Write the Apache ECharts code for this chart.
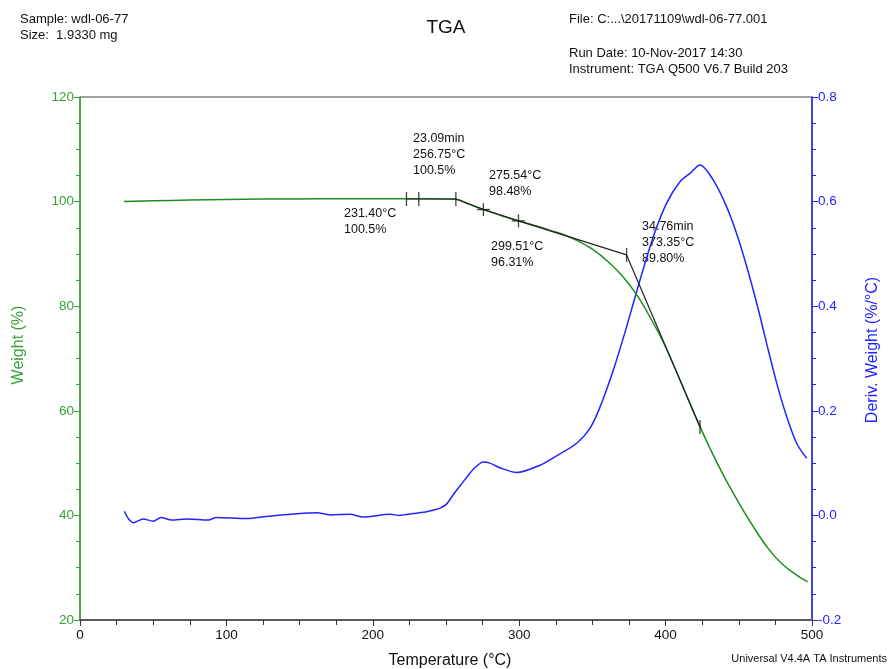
<!DOCTYPE html>
<html><head><meta charset="utf-8">
<script src="https://cdn.jsdelivr.net/npm/echarts@6/dist/echarts.min.js"></script>
<style>html,body{margin:0;padding:0;background:#fff}#c{width:892px;height:669px}</style>
</head><body><div id="c"></div>
<script>
// Weight curve (Temperature °C, Weight %)
const weightTemp = [30,50,75,100,125,150,175,200,225,250,256.75,265,275.54,287,299.51,310,320,330,340,350,360,370,380,390,400,410,420,430,440,450,460,470,480,490,497];
const weightPct  = [100.0,100.15,100.3,100.4,100.48,100.52,100.55,100.56,100.55,100.5,100.44,99.6,98.48,97.4,96.31,95.5,94.6,93.7,92.5,90.9,88.7,85.9,82.3,77.6,72.2,65.8,59.2,53.0,47.4,42.4,37.8,33.7,30.6,28.5,27.3];
// Derivative weight curve (Temperature °C, %/°C)
const derivTemp = [30.3,33,36.4,43.2,50,55.3,62.6,72.9,87.6,93.3,113.8,127.5,148,161.7,170.8,184.4,193.5,211.7,218.6,220.8,236.8,241,246,250.5,255,260,265,270,275.5,280,286.9,298.3,314.2,325.6,339.3,348.4,355.2,364.3,373.4,382.5,391.6,400.7,409.8,416.7,423.5,432.6,441.7,448.5,455.4,462.2,469,475.9,482.7,489.5,496.4];
const derivVal  = [0.008,-0.006,-0.014,-0.007,-0.011,-0.004,-0.009,-0.007,-0.009,-0.004,-0.006,-0.002,0.003,0.005,0.001,0.002,-0.003,0.002,0.000,0.001,0.007,0.010,0.014,0.022,0.040,0.058,0.076,0.092,0.102,0.100,0.091,0.082,0.096,0.114,0.138,0.167,0.207,0.278,0.361,0.45,0.533,0.597,0.638,0.654,0.670,0.641,0.59,0.539,0.476,0.406,0.329,0.253,0.189,0.138,0.109];
// Analysis construction line
const tangentTemp = [223,256.75,275.54,299.51,373.35,423.5];
const tangentPct  = [100.5,100.5,98.48,96.31,89.80,56.9];
// Marker positions
const tickTemp = [223,231.4,256.75,373.35,423.5];
const tickPct  = [100.5,100.5,100.5,89.80,56.9];
const crossTemp = [275.54,299.51];
const crossPct  = [98.48,96.31];
// Axis settings
const xTicks = {min:0,max:500,interval:100};
const yLeft = {min:20,max:120,interval:20};
const yRight = {min:-0.2,max:0.8,interval:0.2};

const zip = (a,b)=>a.map((v,i)=>[v,b[i]]);
const FONT = 'Liberation Sans, Arial, sans-serif';
const GREEN = '#1f8c1f', GREEN_AX = '#38a038', BLUE = '#2323ff';
const chart = echarts.init(document.getElementById('c'));
const txt = (x,y,t,size,color,extra)=>Object.assign({type:'text',left:x,top:y,style:{text:t,fontSize:size,fontFamily:FONT,fill:color||'#111',lineHeight:Math.round(size*1.25)}},extra||{});
chart.setOption({
  animation:false,
  backgroundColor:'#fff',
  grid:{left:80,right:80,top:97,bottom:49,show:true,borderColor:'#444',borderWidth:1},
  xAxis:{type:'value',min:xTicks.min,max:xTicks.max,interval:xTicks.interval,
    axisLine:{onZero:false,lineStyle:{color:'#444',width:1.5}},
    axisTick:{length:6,lineStyle:{color:'#333'}},
    minorTick:{show:true,splitNumber:4,length:5,lineStyle:{color:'#333'}},
    splitLine:{show:false},
    axisLabel:{color:'#111',fontSize:13.5,fontFamily:FONT,margin:8}},
  yAxis:[
    {type:'value',position:'left',min:yLeft.min,max:yLeft.max,interval:yLeft.interval,
     axisLine:{show:true,onZero:false,lineStyle:{color:GREEN_AX,width:1.5}},
     axisTick:{show:true,length:6,lineStyle:{color:GREEN_AX}},
     minorTick:{show:true,splitNumber:4,length:4,lineStyle:{color:GREEN_AX}},
     splitLine:{show:false},
     axisLabel:{color:GREEN_AX,fontSize:13.5,fontFamily:FONT,margin:6}},
    {type:'value',position:'right',min:yRight.min,max:yRight.max,interval:yRight.interval,
     axisLine:{show:true,onZero:false,lineStyle:{color:BLUE,width:1.5}},
     axisTick:{show:true,length:6,lineStyle:{color:BLUE}},
     minorTick:{show:true,splitNumber:4,length:4,lineStyle:{color:BLUE}},
     splitLine:{show:false},
     axisLabel:{color:BLUE,fontSize:13.5,fontFamily:FONT,margin:6,formatter:v=>v.toFixed(1)}}
  ],
  series:[
    {type:'line',yAxisIndex:1,data:zip(derivTemp,derivVal),smooth:0.3,symbol:'none',lineStyle:{color:BLUE,width:1.5},z:2},
    {type:'line',yAxisIndex:0,data:zip(weightTemp,weightPct),smooth:0.4,symbol:'none',lineStyle:{color:GREEN,width:1.5},z:3},
    {type:'line',yAxisIndex:0,data:zip(tangentTemp,tangentPct),symbol:'none',lineStyle:{color:'#222',width:1.2},z:4},
    {type:'scatter',yAxisIndex:0,data:zip(tickTemp,tickPct),symbol:'rect',symbolSize:[1.3,14],itemStyle:{color:'#111'},z:5},
    {type:'scatter',yAxisIndex:0,data:zip(crossTemp,crossPct),symbol:'rect',symbolSize:[1.3,13],itemStyle:{color:'#111'},z:5},
    {type:'scatter',yAxisIndex:0,data:zip(crossTemp,crossPct),symbol:'rect',symbolSize:[13,1.3],itemStyle:{color:'#111'},z:5}
  ],
  graphic:[
    txt(20,11,'Sample: wdl-06-77\nSize:  1.9330 mg',13),
    {type:'text',left:'center',top:18,style:{text:'TGA',fontSize:19,fontFamily:FONT,fill:'#111'}},
    txt(569,11,'File: C:...\\20171109\\wdl-06-77.001',13),
    txt(569,45,'Run Date: 10-Nov-2017 14:30\nInstrument: TGA Q500 V6.7 Build 203',13),
    txt(413,131,'23.09min\n256.75°C\n100.5%',12.5),
    txt(344,206,'231.40°C\n100.5%',12.5),
    txt(489,168,'275.54°C\n98.48%',12.5),
    txt(491,239,'299.51°C\n96.31%',12.5),
    txt(642,219,'34.76min\n373.35°C\n89.80%',12.5),
    {type:'text',x:19,y:345,rotation:Math.PI/2,style:{text:'Weight (%)',fontSize:16,fontFamily:FONT,fill:GREEN_AX,textAlign:'center',textVerticalAlign:'middle'}},
    {type:'text',x:873,y:350,rotation:Math.PI/2,style:{text:'Deriv. Weight (%/°C)',fontSize:16,fontFamily:FONT,fill:BLUE,textAlign:'center',textVerticalAlign:'middle'}},
    {type:'text',x:450,y:661,style:{text:'Temperature (°C)',fontSize:16,fontFamily:FONT,fill:'#111',textAlign:'center',textVerticalAlign:'middle'}},
    {type:'text',x:887,y:659,style:{text:'Universal V4.4A TA Instruments',fontSize:11,fontFamily:FONT,fill:'#111',textAlign:'right',textVerticalAlign:'middle'}}
  ]
});
</script></body></html>
